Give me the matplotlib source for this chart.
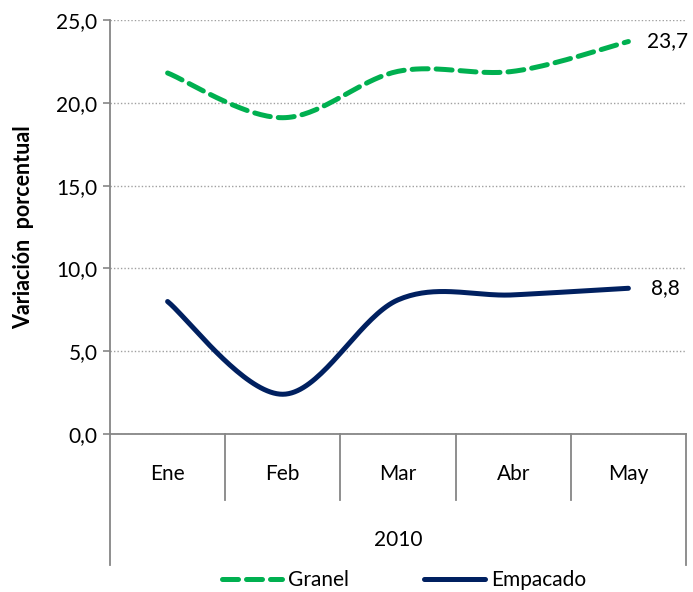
import numpy as np
import matplotlib
matplotlib.use("Agg")
import matplotlib.pyplot as plt
from matplotlib.ticker import FuncFormatter

plt.rcParams['font.family'] = ['Lato', 'DejaVu Sans']

meses = ["Ene", "Feb", "Mar", "Abr", "May"]
anio = "2010"
granel = [21.8, 19.1, 21.9, 21.9, 23.7]
empacado = [8.0, 2.4, 8.1, 8.4, 8.8]

verde = "#00b050"
azul = "#002060"
gris = "#868686"
fs = 15


def suavizar(x, y, n=40):
    # curva tipo Excel: Bezier con tangentes de Catmull-Rom
    x = np.asarray(x, float)
    y = np.asarray(y, float)
    px = np.concatenate([[x[0]], x, [x[-1]]])
    py = np.concatenate([[y[0]], y, [y[-1]]])
    xs, ys = [], []
    t = np.linspace(0, 1, n)
    for i in range(1, len(px) - 2):
        p0 = np.array([px[i], py[i]])
        p3 = np.array([px[i + 1], py[i + 1]])
        p1 = p0 + (np.array([px[i + 1], py[i + 1]]) - np.array([px[i - 1], py[i - 1]])) / 6
        p2 = p3 - (np.array([px[i + 2], py[i + 2]]) - np.array([px[i], py[i]])) / 6
        b = (((1 - t) ** 3)[:, None] * p0 + (3 * (1 - t) ** 2 * t)[:, None] * p1
             + (3 * (1 - t) * t ** 2)[:, None] * p2 + (t ** 3)[:, None] * p3)
        xs.extend(b[:, 0])
        ys.extend(b[:, 1])
    return xs, ys


fig = plt.figure(figsize=(6.93, 5.92), dpi=100)
ax = fig.add_axes([110 / 693, 1 - 434 / 592, 576 / 693, 414 / 592])

x = np.arange(len(meses))
gx, gy = suavizar(x, granel)
ex, ey = suavizar(x, empacado)
ax.plot(gx, gy, color=verde, lw=3.6, ls=(0, (3.2, 1.6)), label="Granel",
        solid_capstyle="round", dash_capstyle="round")
ax.plot(ex, ey, color=azul, lw=3.6, label="Empacado", solid_capstyle="round")

ax.text(x[-1] + 0.16, granel[-1], f"{granel[-1]:.1f}".replace(".", ","),
        fontsize=fs, va="center", ha="left")
ax.text(x[-1] + 0.2, empacado[-1], f"{empacado[-1]:.1f}".replace(".", ","),
        fontsize=fs, va="center", ha="left")

ax.set_xlim(-0.5, len(meses) - 0.5)
ax.set_ylim(0, 25)
ax.set_yticks(np.arange(0, 26, 5))
ax.yaxis.set_major_formatter(FuncFormatter(lambda v, p: f"{v:.1f}".replace(".", ",")))
ax.tick_params(axis="y", labelsize=fs, length=5, width=1.2, color=gris, pad=4)
ax.set_xticks([])
ax.yaxis.grid(True, ls=(0, (1, 1.5)), color="#a0a0a0", lw=1)
ax.set_axisbelow(True)

for s in ["top", "right"]:
    ax.spines[s].set_visible(False)
for s in ["left", "bottom"]:
    ax.spines[s].set_color(gris)
    ax.spines[s].set_linewidth(1.3)

# ejes de categorias en dos niveles
trans = ax.get_xaxis_transform()
abajo_mes = -66 / 414
abajo_anio = -131 / 414
for b in np.arange(0.5, len(meses) - 0.5, 1):
    ax.plot([b, b], [0, abajo_mes], transform=trans, color=gris, lw=1.3, clip_on=False)
for b in [-0.5, len(meses) - 0.5]:
    ax.plot([b, b], [0, abajo_anio], transform=trans, color=gris, lw=1.3, clip_on=False)
for xi, m in zip(x, meses):
    ax.text(xi, -40 / 414, m, transform=trans, ha="center", va="center", fontsize=fs)
ax.text(np.mean(x), -106 / 414, anio, transform=trans, ha="center", va="center", fontsize=fs)

ax.set_ylabel("Variación  porcentual", fontsize=15.5, fontweight="bold", labelpad=16)

fig.legend(loc="center", bbox_to_anchor=(404 / 693, 1 - 580 / 592), ncol=2, frameon=False,
           fontsize=fs, handlelength=2.9, handletextpad=0.3, columnspacing=3.6)

fig.savefig("out.png", dpi=100)
